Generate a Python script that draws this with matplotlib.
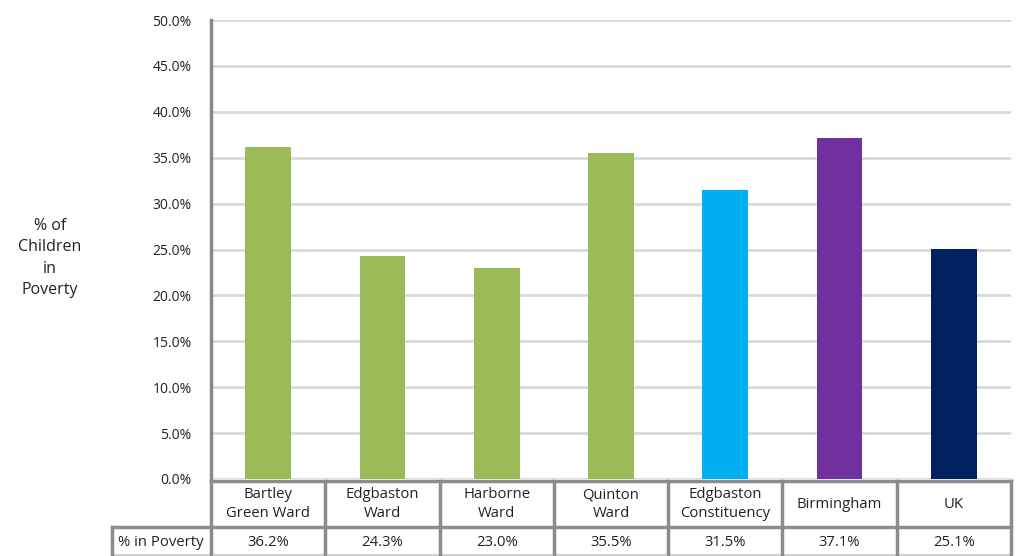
import matplotlib.pyplot as plt
import numpy as np

# Datos
categorias = ['Bartley\nGreen Ward', 'Edgbaston\nWard', 'Harborne\nWard', 'Quinton\nWard',
              'Edgbaston\nConstituency', 'Birmingham', 'UK']
valores = [36.2, 24.3, 23.0, 35.5, 31.5, 37.1, 25.1]
colores = ['#9BBB59', '#9BBB59', '#9BBB59', '#9BBB59', '#00B0F0', '#7030A0', '#002060']
etiqueta_fila = '% in Poverty'
ticks_y = np.arange(0, 50.1, 5)

plt.rcParams['font.family'] = ['Open Sans', 'DejaVu Sans']
W, H = 1021, 556
fig = plt.figure(figsize=(W / 100, H / 100), dpi=100)

def caja(x0, y0, x1, y1):
    # convierte pixeles (desde arriba) a fraccion de figura
    return [x0 / W, 1 - y1 / H, (x1 - x0) / W, (y1 - y0) / H]

ax = fig.add_axes(caja(211, 20, 1011, 479))
x = np.arange(len(valores))
ax.bar(x, valores, width=0.40, color=colores, zorder=3)
ax.set_xlim(-0.5, len(valores) - 0.5)
ax.set_ylim(0, 50)
ax.set_yticks(ticks_y)
ax.set_yticklabels([f'{v:.1f}%' for v in ticks_y], fontsize=10, color='#222222')
ax.set_xticks([])
ax.grid(axis='y', color='#D9D9D9', linewidth=2, zorder=0)
for s in ['top', 'right', 'bottom']:
    ax.spines[s].set_visible(False)
ax.spines['left'].set_color('#888888')
ax.spines['left'].set_linewidth(2.5)
ax.tick_params(axis='y', length=0, pad=14)

fig.text(50 / W, 1 - 258 / H, '% of\nChildren\nin\nPoverty', ha='center', va='center',
         fontsize=11.5, linespacing=1.45, color='#222222')

# Tabla de datos debajo
ancho_col = 800 / len(valores)
borde = dict(color='#8C8C8C', linewidth=2.5)
fila1 = (481, 527)
fila2 = (527, 556)
# lineas horizontales
fig.add_artist(plt.Line2D([211 / W, 1011 / W], [1 - fila1[0] / H] * 2, **borde))
fig.add_artist(plt.Line2D([112 / W, 1011 / W], [1 - fila1[1] / H] * 2, **borde))
fig.add_artist(plt.Line2D([112 / W, 1011 / W], [1 - 555 / H] * 2, color='#D0D0D0', linewidth=1.5))
# lineas verticales
fig.add_artist(plt.Line2D([112 / W] * 2, [1 - fila1[1] / H, 0], **borde))
for i in range(len(valores) + 1):
    xp = 211 + i * ancho_col
    fig.add_artist(plt.Line2D([xp / W] * 2, [1 - fila1[0] / H, 0], **borde))

for i, (c, v) in enumerate(zip(categorias, valores)):
    xc = (211 + (i + 0.5) * ancho_col) / W
    fig.text(xc, 1 - (sum(fila1) / 2) / H, c, ha='center', va='center', fontsize=10.7,
             linespacing=1.3, color='#222222')
    fig.text(xc, 1 - (sum(fila2) / 2 + 0.5) / H, f'{v:.1f}%', ha='center', va='center',
             fontsize=10.7, color='#222222')
fig.text(161 / W, 1 - (sum(fila2) / 2 + 0.5) / H, etiqueta_fila, ha='center', va='center',
         fontsize=10.7, color='#222222')

fig.savefig('out.png', dpi=100)
